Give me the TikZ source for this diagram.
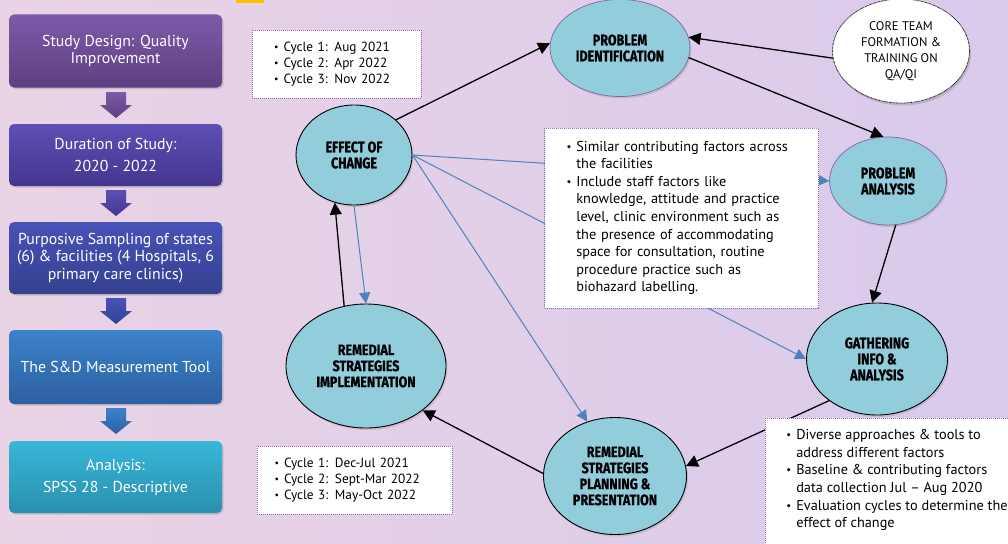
\documentclass[tikz,border=0pt]{standalone}
\usepackage{fontspec}
\setmainfont{PT Sans}
\newfontfamily\ellfont[FakeStretch=0.82,FakeBold=0.8]{Fira Sans}
\usetikzlibrary{arrows.meta,shapes.geometric,shadows}
\definecolor{bgL}{HTML}{EAD3E4}
\definecolor{bgR}{HTML}{D9CAEC}
\definecolor{ellfill}{HTML}{92CDDC}
\definecolor{ellpurple}{HTML}{8064A2}
\definecolor{arrblue}{HTML}{4F81BD}
\definecolor{dotpurple}{HTML}{8E6BB5}
\definecolor{goldy}{HTML}{FFC000}
\definecolor{aT}{HTML}{7D5AA8}\definecolor{aB}{HTML}{5F3F82}
\definecolor{bT}{HTML}{5D4FB5}\definecolor{bB}{HTML}{44368F}
\definecolor{cT}{HTML}{4852B8}\definecolor{cB}{HTML}{34418F}
\definecolor{dT}{HTML}{3C82CB}\definecolor{dB}{HTML}{2D60A0}
\definecolor{eT}{HTML}{38B6D8}\definecolor{eB}{HTML}{2A90AE}
\newcommand\bu{\raisebox{0.15ex}{\scalebox{0.75}{\textbullet}}}
\begin{document}
\begin{tikzpicture}[x=1pt,y=-1pt,
  lbox/.style={rectangle, rounded corners=5pt, minimum width=213pt, text=white,
    align=center, inner sep=0pt, font=\fontsize{15.8}{17.5}\selectfont,
    drop shadow={opacity=0.3, shadow xshift=1.5pt, shadow yshift=-1.5pt}},
  ell/.style={ellipse, fill=ellfill, draw=black, line width=0.9pt, inner sep=0pt,
    align=center, font=\ellfont\bfseries\fontsize{15.3}{16}\selectfont,
    drop shadow={opacity=0.25, shadow xshift=1.5pt, shadow yshift=-2pt}},
  ellp/.style={ell, draw=ellpurple, line width=0.7pt},
  wbox/.style={rectangle, fill=white, draw=dotpurple, line width=0.8pt,
    dash pattern=on 0.8pt off 1.2pt, inner sep=0pt, align=left,
    font=\fontsize{14.3}{17.6}\selectfont},
  cbox/.style={wbox, font=\fontsize{13.3}{16}\selectfont},
  blk/.style={-{Triangle[length=12pt,width=12pt]}, line width=1.3pt, black},
  blu/.style={-{Triangle[length=11pt,width=11pt]}, line width=1pt, arrblue, draw=arrblue}
]
\useasboundingbox (0,0) rectangle (1008,543);
\shade[left color=bgL, right color=bgR] (0,0) rectangle (1008,543);
\fill[goldy] (236,0) rectangle (264,3);

% left column
\node[lbox, top color=aT, bottom color=aB, minimum height=73pt] (s1) at (115.5,51) {Study Design: Quality\\Improvement};
\node[lbox, top color=bT, bottom color=bB, minimum height=62pt, font=\fontsize{15.8}{22}\selectfont] (s2) at (115.5,155) {Duration of Study:\\2020 - 2022};
\node[lbox, top color=cT, bottom color=cB, minimum height=72pt] (s3) at (115.5,258) {Purposive Sampling of states\\(6) \& facilities (4 Hospitals, 6\\primary care clinics)};
\node[lbox, top color=dT, bottom color=dB, minimum height=74pt] (s4) at (115.5,367) {The S\&D Measurement Tool};
\node[lbox, top color=eT, bottom color=eB, minimum height=72pt, font=\fontsize{15.8}{22}\selectfont] (s5) at (115.5,477) {Analysis:\\SPSS 28 - Descriptive};

\foreach \y/\ct/\cb in {92/aT/aB, 190/bT/bB, 298/cT/cB, 408/dT/dB}{
  \shade[top color=\ct, bottom color=\cb] (106,\y) -- (126,\y) -- (126,\y+13) -- (132,\y+13) -- (116,\y+26) -- (100,\y+13) -- (106,\y+13) -- cycle;
}

% ellipses
\node[ellp, minimum width=140pt, minimum height=97pt] (pi) at (620,48) {PROBLEM\\IDENTIFICATION};
\node[ellipse, fill=white, draw=black, line width=0.8pt, dash pattern=on 0.7pt off 0.7pt,
  minimum width=137pt, minimum height=104pt, inner sep=0pt, align=center,
  font=\fontsize{12.5}{16}\selectfont,
  drop shadow={opacity=0.35, shadow xshift=1.5pt, shadow yshift=-2.5pt}] (core) at (901,51) {CORE TEAM\\FORMATION \&\\TRAINING ON\\QA/QI};
\node[ell, minimum width=116pt, minimum height=100pt] (eoc) at (354,155) {EFFECT OF\\CHANGE};
\node[ellp, minimum width=117pt, minimum height=88pt] (pa) at (888,181) {PROBLEM\\ANALYSIS};
\node[ell, minimum width=141pt, minimum height=112pt] (gi) at (877,359) {GATHERING\\INFO \&\\ANALYSIS};
\node[ell, minimum width=143pt, minimum height=117pt] (plan) at (615,476) {REMEDIAL\\STRATEGIES\\PLANNING \&\\PRESENTATION};
\node[ell, minimum width=160pt, minimum height=124pt] (impl) at (366,366) {REMEDIAL\\STRATEGIES\\IMPLEMENTATION};

% blue connectors (behind the text box)
\draw[blu] (eoc.east) -- (pa.west);
\draw[blu] (eoc.east) -- (gi.west);
\draw[blu] (eoc.east) -- (plan.117);
\draw[blu] (eoc.south) -- (impl.north);

% black connectors
\draw[blk] (eoc.40) -- (pi.176);
\draw[blk] (core.186) -- (pi.9);
\draw[blk] (pi.-8) -- (pa.96);
\draw[blk] (pa.-80) -- (gi.95);
\draw[blk] (gi.221) -- (plan.8);
\draw[blk] (plan.178) -- (impl.-38);
\draw[blk] (impl.110) -- (eoc.-112);

% text boxes
\node[cbox, minimum width=169pt, minimum height=68pt, text width=125pt, inner xsep=22pt] (c1) at (336.5,64)
{\begin{tabular}{@{}l@{\hspace{5pt}}l@{}}\bu & Cycle 1: Aug 2021\\ \bu & Cycle 2: Apr 2022\\ \bu & Cycle 3: Nov 2022\end{tabular}};
\node[cbox, minimum width=195pt, minimum height=68pt, text width=160pt, inner xsep=17pt] (c2) at (354.5,480)
{\begin{tabular}{@{}l@{\hspace{5pt}}l@{}}\bu & Cycle 1: Dec-Jul 2021\\ \bu & Cycle 2: Sept-Mar 2022\\ \bu & Cycle 3: May-Oct 2022\end{tabular}};
\node[wbox, minimum width=273pt, minimum height=180pt, text width=230pt, inner xsep=22pt] (fac) at (681.5,218)
{\begin{tabular}{@{}l@{\hspace{5pt}}l@{}}\bu & Similar contributing factors across\\ & the facilities\\ \bu & Include staff factors like\\ & knowledge, attitude and practice\\ & level, clinic environment such as\\ & the presence of accommodating\\ & space for consultation, routine\\ & procedure practice such as\\ & biohazard labelling.\end{tabular}};
\node[wbox, anchor=north west, inner xsep=21pt, inner ysep=9pt] (apr) at (765,418)
{\parbox[c][130pt][t]{240pt}{\begin{tabular}{@{}l@{\hspace{5pt}}l@{}}\bu & Diverse approaches \& tools to\\ & address different factors\\ \bu & Baseline \& contributing factors\\ & data collection Jul -- Aug 2020\\ \bu & Evaluation cycles to determine the\\ & effect of change\end{tabular}}};
\end{tikzpicture}
\end{document}
